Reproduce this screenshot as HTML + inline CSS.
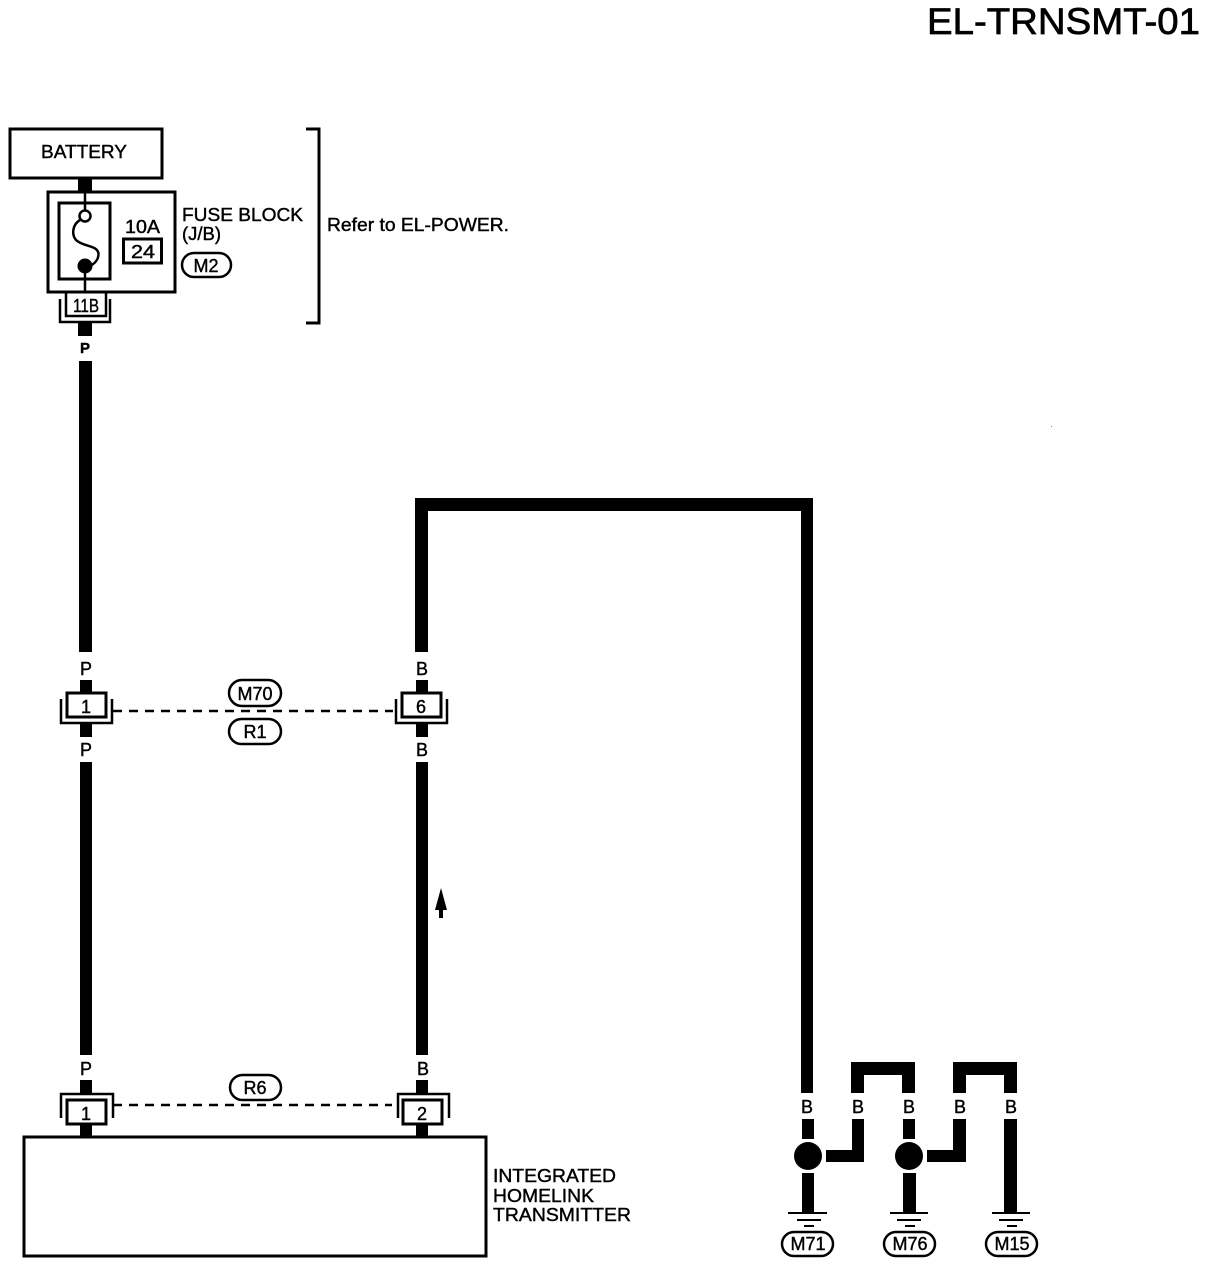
<!DOCTYPE html>
<html><head><meta charset="utf-8">
<style>
html,body{margin:0;padding:0;background:#fff;width:1216px;height:1264px;overflow:hidden}
svg{display:block}
text{font-family:"Liberation Sans",sans-serif;fill:#000;stroke:#000;stroke-width:.4px}
</style></head><body>
<svg width="1216" height="1264" viewBox="0 0 1216 1264" xmlns="http://www.w3.org/2000/svg">
<rect width="1216" height="1264" fill="#fff"/>
<text x="927" y="34" font-size="37" textLength="273" lengthAdjust="spacingAndGlyphs" style="stroke-width:.7px">EL-TRNSMT-01</text>
<rect x="1051" y="426" width="1" height="1" fill="#888"/>

<g fill="#000">
<!-- Left wire -->
<rect x="78" y="178" width="14" height="14"/>
<rect x="78" y="322" width="14" height="14"/>
<rect x="79" y="361" width="13" height="291"/>
<rect x="80" y="680" width="12" height="14"/>
<rect x="80" y="723" width="12" height="14"/>
<rect x="80" y="762" width="12" height="293"/>
<rect x="80" y="1080" width="12" height="14"/>
<rect x="80" y="1123" width="12" height="14"/>
<!-- Mid wire -->
<path d="M415 652V498H813V1093H801V511H428V652Z"/>
<rect x="416" y="680" width="12" height="14"/>
<rect x="416" y="723" width="12" height="14"/>
<rect x="416" y="762" width="12" height="293"/>
<rect x="416" y="1080" width="12" height="14"/>
<rect x="416" y="1123" width="12" height="14"/>
<!-- Ground wires -->
<path d="M851 1093V1062H915V1093H902V1075H864V1093Z"/>
<path d="M953 1093V1062H1017V1093H1004V1075H966V1093Z"/>
<rect x="802" y="1119" width="12" height="20"/>
<circle cx="808" cy="1156" r="14"/>
<rect x="802" y="1173" width="12" height="41"/>
<path d="M826 1150H852V1119H864V1162H826Z"/>
<rect x="903" y="1119" width="12" height="20"/>
<circle cx="909" cy="1156" r="14"/>
<rect x="903" y="1173" width="13" height="41"/>
<path d="M927 1150H953V1119H966V1162H927Z"/>
<rect x="1004" y="1119" width="13" height="95"/>
<!-- Ground symbols -->
<rect x="788" y="1212" width="39" height="2"/><rect x="797" y="1219" width="24" height="2"/><rect x="804" y="1225" width="10" height="2"/>
<rect x="890" y="1212" width="38" height="2"/><rect x="897" y="1219" width="24" height="2"/><rect x="905" y="1225" width="10" height="2"/>
<rect x="992" y="1212" width="38" height="2"/><rect x="999" y="1219" width="24" height="2"/><rect x="1007" y="1225" width="10" height="2"/>
<!-- Arrow -->
<path d="M441 888L447 910H443V918H439V910H435Z"/>
</g>

<g fill="none" stroke="#000" stroke-width="3">
<rect x="10" y="129" width="152" height="49"/>
<rect x="48" y="192" width="127" height="100"/>
<rect x="59" y="203" width="51" height="76"/>
<path d="M85 191V210M85 273V292" stroke-width="2.5"/>
<circle cx="85" cy="216" r="5.500" stroke-width="2.5"/>
<path d="M80 220C73 224 71 234 76 240C83 247 98 245 98.500 254C98.500 260 94 264 90 266" stroke-width="2.5"/>
<rect x="123.500" y="239" width="38" height="24"/>
<path d="M306 129H319V323H306"/>
<!-- 11B -->
<rect x="66" y="292" width="40" height="24" stroke-width="2.500"/>
<path d="M60 299V322H110V299" stroke-width="2.500"/>
<!-- connectors -->
<rect x="67" y="693" width="39" height="24"/>
<path d="M61 699V723H112V699" stroke-width="2.500"/>
<rect x="402" y="693" width="39" height="24"/>
<path d="M396 699V723H447V699" stroke-width="2.500"/>
<rect x="67" y="1100" width="39" height="24"/>
<path d="M61 1118V1094H113V1118" stroke-width="2.500"/>
<rect x="403" y="1100" width="39" height="24"/>
<path d="M398 1118V1094H449V1118" stroke-width="2.500"/>
<rect x="24" y="1137" width="462" height="119"/>
<!-- dashed -->
<path d="M113 711H393M113 1105H392" stroke-width="2.500" stroke-dasharray="9 7"/>
<!-- pills -->
<rect x="182" y="253" width="49" height="24" rx="12" stroke-width="2.500"/>
<rect x="229" y="680" width="52" height="26" rx="13" stroke-width="2.500"/>
<rect x="229" y="719" width="52" height="25" rx="12.500" stroke-width="2.500"/>
<rect x="230" y="1075" width="51" height="25" rx="12.500" stroke-width="2.500"/>
<rect x="782" y="1232" width="51" height="24" rx="12" stroke-width="2.500"/>
<rect x="884" y="1232" width="51" height="24" rx="12" stroke-width="2.500"/>
<rect x="986" y="1232" width="51" height="24" rx="12" stroke-width="2.500"/>
</g>
<circle cx="85" cy="266" r="7.500" fill="#000"/>

<g font-size="18">
<text x="41" y="158" textLength="86" lengthAdjust="spacingAndGlyphs">BATTERY</text>
<text x="182" y="221" textLength="121" lengthAdjust="spacingAndGlyphs">FUSE BLOCK</text>
<text x="182" y="240" textLength="39" lengthAdjust="spacingAndGlyphs">(J/B)</text>
<text x="125" y="233" textLength="35" lengthAdjust="spacingAndGlyphs">10A</text>
<text x="131" y="258" textLength="24" lengthAdjust="spacingAndGlyphs">24</text>
<text x="327" y="231" textLength="182" lengthAdjust="spacingAndGlyphs">Refer to EL-POWER.</text>
<text x="493" y="1182" textLength="123" lengthAdjust="spacingAndGlyphs">INTEGRATED</text>
<text x="493" y="1202" textLength="101" lengthAdjust="spacingAndGlyphs">HOMELINK</text>
<text x="493" y="1221" textLength="138" lengthAdjust="spacingAndGlyphs">TRANSMITTER</text>
</g>
<g font-size="18" text-anchor="middle">
<text x="206" y="272">M2</text>
<text x="85" y="353" font-size="15" font-weight="bold">P</text>
<text x="86" y="675">P</text><text x="86" y="756">P</text><text x="86" y="1075">P</text>
<text x="422" y="675">B</text><text x="422" y="756">B</text><text x="423" y="1075">B</text>
<text x="86" y="713">1</text><text x="421" y="713">6</text><text x="86" y="1120">1</text><text x="422" y="1120">2</text>
<text x="86" y="312" textLength="26" lengthAdjust="spacingAndGlyphs">11B</text>
<text x="255" y="700">M70</text><text x="255" y="738">R1</text><text x="255" y="1094">R6</text>
<text x="807" y="1113">B</text><text x="858" y="1113">B</text><text x="909" y="1113">B</text><text x="960" y="1113">B</text><text x="1011" y="1113">B</text>
<text x="808" y="1250">M71</text><text x="910" y="1250">M76</text><text x="1012" y="1250">M15</text>
</g>
</svg>
</body></html>
